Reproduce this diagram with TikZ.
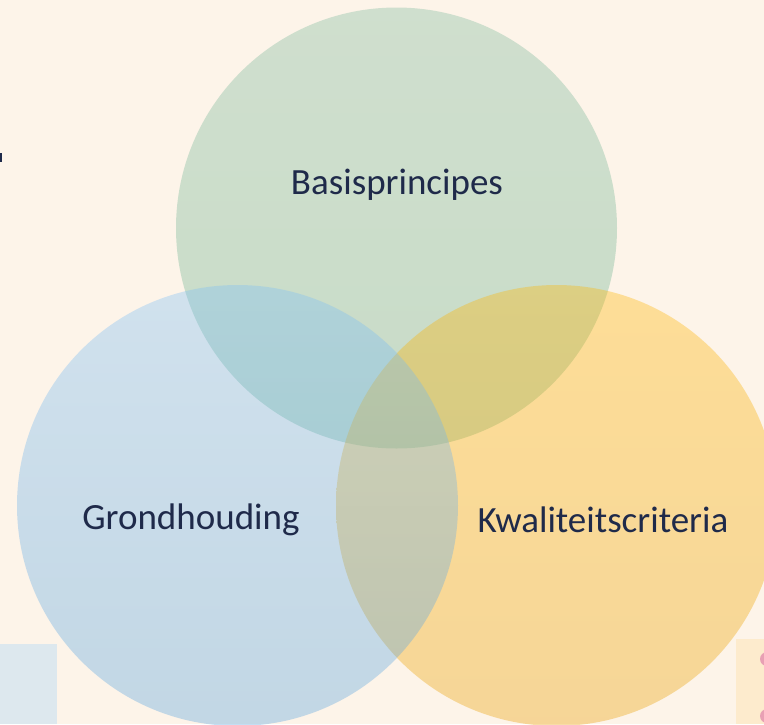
\documentclass[tikz,border=0pt]{standalone}
\usepackage{fontspec}
\setmainfont{Carlito}
\usepackage{xcolor}
\definecolor{vennbg}{RGB}{253, 244, 233}
\definecolor{venntext}{RGB}{31, 42, 74}
\definecolor{greentop}{RGB}{124, 184, 156}
\definecolor{greenbot}{RGB}{101, 176, 139}
\definecolor{bluetop}{RGB}{127, 192, 247}
\definecolor{bluebot}{RGB}{84, 161, 222}
\definecolor{yellowtop}{RGB}{255, 181, 0}
\definecolor{yellowbot}{RGB}{233, 158, 0}
\definecolor{tileblue}{RGB}{221, 232, 238}
\definecolor{tileyellow}{RGB}{253, 235, 205}
\definecolor{dotpink}{RGB}{232, 160, 180}

\tikzset{
  venn/.style={circle, minimum size=441pt, inner sep=0pt, fill opacity=0.35, draw=none},
  vennlabel/.style={text=venntext, font=\fontsize{37}{44}\selectfont}
}

\begin{document}
\begin{tikzpicture}[x=1pt, y=-1pt]
\fill[vennbg] (0,0) rectangle (764,724);
\useasboundingbox (0,0) rectangle (764,724);
% side tiles
\fill[tileblue] (0,644) rectangle (57,724);
\fill[tileyellow] (736,639) rectangle (764,724);
\fill[dotpink] (767,659) circle (7);
\fill[dotpink] (767,716) circle (7);
\fill[venntext] (0,153) rectangle (1.5,162);
% circles
\node[venn, top color=greentop, bottom color=greenbot] (basis) at (396.5,228) {};
\node[venn, top color=yellowtop, bottom color=yellowbot] (kwal) at (556.5,505.5) {};
\node[venn, top color=bluetop, bottom color=bluebot] (grond) at (237.5,505.5) {};
% labels
\node[vennlabel] (basislabel) at (397,185) {Basisprincipes};
\node[vennlabel] (grondlabel) at (191,520) {Grondhouding};
\node[vennlabel] (kwallabel) at (603,520) {Kwaliteitscriteria};
\end{tikzpicture}
\end{document}
